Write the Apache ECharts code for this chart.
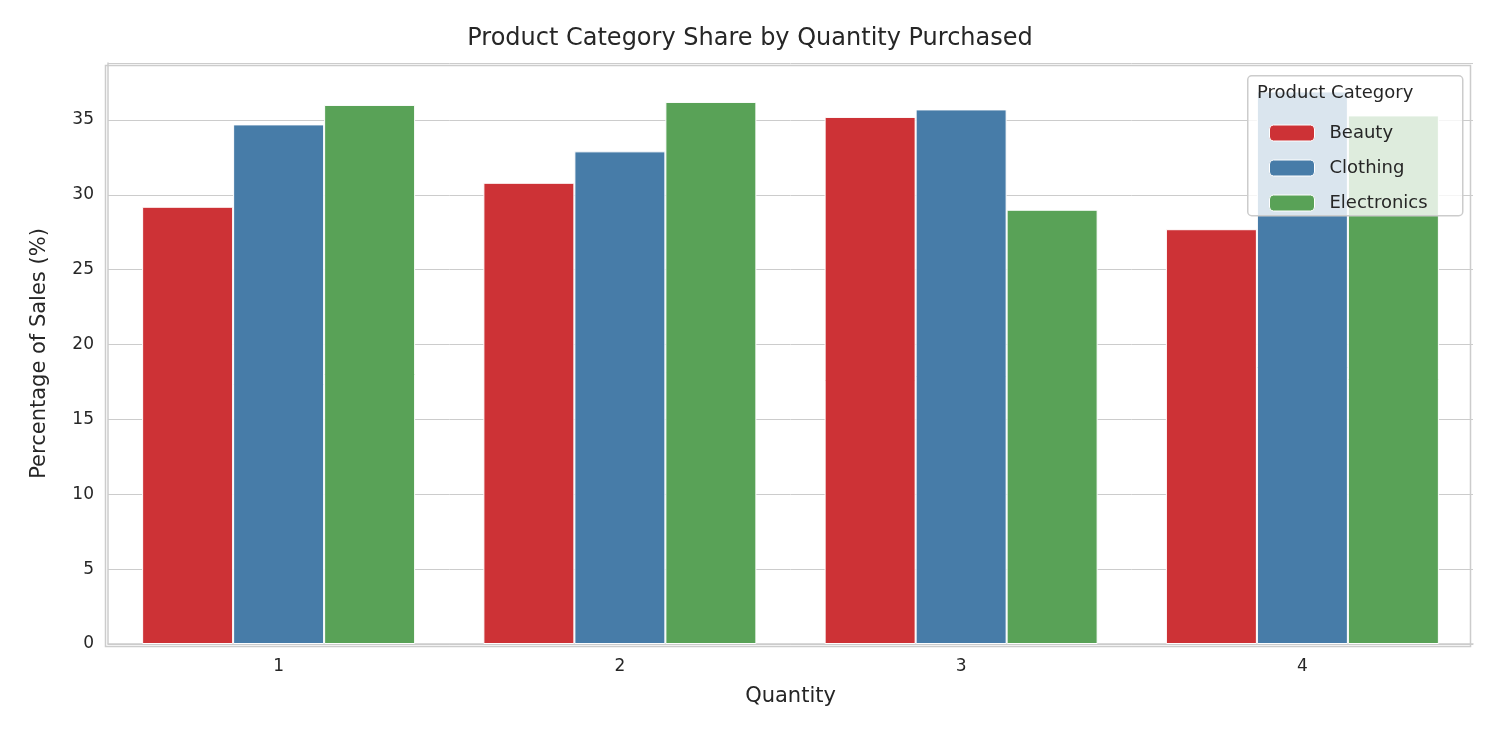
<!DOCTYPE html><html><head><meta charset="utf-8"><script src="https://cdn.jsdelivr.net/npm/echarts@6/dist/echarts.min.js"></script>
<style>body{margin:0}#c{width:1500px;height:750px}</style></head><body><div id="c"></div><script>
const categories=['1','2','3','4'];
const beauty=[29.2,30.8,35.2,27.7];
const clothing=[34.7,32.9,35.7,36.9];
const electronics=[36.0,36.2,29.0,35.3];
const yTicks=[0,5,10,15,20,25,30,35];
const font='DejaVu Sans';
const c=echarts.init(document.getElementById('c'));
const mk=(n,d,col)=>({name:n,type:'bar',data:d,barGap:'0%',barCategoryGap:'20%',itemStyle:{color:col,borderColor:'#fff',borderWidth:1}});
c.setOption({
 animation:false,
 title:{text:'Product Category Share by Quantity Purchased',left:'center',top:22,textStyle:{fontFamily:font,fontSize:24,fontWeight:'normal',color:'#262626'}},
 grid:{left:108,right:27,top:63,bottom:106},
 xAxis:{type:'category',data:categories,name:'Quantity',nameLocation:'middle',nameGap:42,nameTextStyle:{fontFamily:font,fontSize:21,color:'#262626'},
  axisLine:{show:true,lineStyle:{color:'#ccc',width:1.5}},axisTick:{show:false},axisLabel:{fontFamily:font,fontSize:17,color:'#262626',margin:14}},
 yAxis:{type:'value',min:0,max:38.8,interval:5,name:'Percentage of Sales (%)',nameLocation:'middle',nameGap:58,nameTextStyle:{fontFamily:font,fontSize:21,color:'#262626'},
  axisLine:{show:true,lineStyle:{color:'#ccc',width:1.5}},axisTick:{show:false},
  axisLabel:{fontFamily:font,fontSize:17,color:'#262626',margin:14,formatter:v=>yTicks.includes(v)?String(v):''},
  splitLine:{lineStyle:{color:'#ccc',width:1}}},
 graphic:[
  {type:'rect',right:27,top:63,shape:{width:1365,height:581},style:{fill:'none',stroke:'#ccc',lineWidth:1.5},z:1,silent:true},
  {type:'rect',left:1247,top:75,shape:{width:215,height:140,r:4},style:{fill:'rgba(255,255,255,0.8)',stroke:'#ccc',lineWidth:1.5},z:10},
  {type:'text',left:1257,top:84,style:{text:'Product Category',font:'18px DejaVu Sans',fill:'#262626'},z:11}
 ],
 legend:{orient:'vertical',left:1264,top:119,itemWidth:45,itemHeight:16,itemGap:17,z:12,
  textStyle:{fontFamily:font,fontSize:18,color:'#262626',padding:[0,0,0,10]},
  itemStyle:{borderColor:'#fff',borderWidth:1}},
 series:[mk('Beauty',beauty,'#cd3236'),mk('Clothing',clothing,'#477ca8'),mk('Electronics',electronics,'#59a257')]
});
</script></body></html>
